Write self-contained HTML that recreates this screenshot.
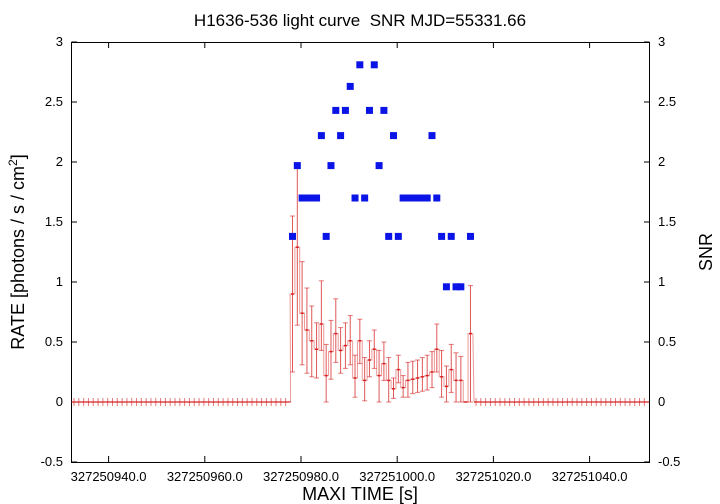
<!DOCTYPE html>
<html><head><meta charset="utf-8"><style>
html,body{margin:0;padding:0;background:#fff;}
svg{display:block;font-family:"Liberation Sans",sans-serif;}
</style></head><body>
<svg id="s" width="720" height="504" xmlns="http://www.w3.org/2000/svg">
<rect width="720" height="504" fill="#fff"/>
<text x="360" y="26" font-size="17" text-anchor="middle">H1636-536 light curve&#160; SNR MJD=55331.66</text>
<rect x="71.5" y="42.5" width="578" height="420" fill="none" stroke="#000" stroke-width="1"/>
<g id="ax" font-size="13"></g>
<g id="data"></g>
<text x="360" y="500" font-size="18" text-anchor="middle">MAXI TIME [s]</text>
<text transform="translate(24,252) rotate(-90)" font-size="18" text-anchor="middle">RATE [photons / s / cm<tspan font-size="12" dy="-7">2</tspan><tspan dy="7">]</tspan></text>
<text transform="translate(712,252) rotate(-90)" font-size="18" text-anchor="middle">SNR</text>
</svg>
<script>
var NS="http://www.w3.org/2000/svg";
function el(p,t,a,txt){var e=document.createElementNS(NS,t);for(var k in a)e.setAttribute(k,a[k]);if(txt!==undefined)e.textContent=txt;p.appendChild(e);return e;}
var ax=document.getElementById('ax'),d=document.getElementById('data');
function Y(v){return 402-120*v;}
function X(t){return 108.6+(t-940)*4.81;}
var yl=[-0.5,0,0.5,1,1.5,2,2.5,3],ys=["-0.5","0","0.5","1","1.5","2","2.5","3"];
yl.forEach(function(v,i){var y=Y(v);
el(ax,'line',{x1:71.5,x2:77,y1:y,y2:y,stroke:'#000'});
el(ax,'line',{x1:644,x2:649.5,y1:y,y2:y,stroke:'#000'});
el(ax,'text',{x:63,y:y+4,'text-anchor':'end'},ys[i]);
el(ax,'text',{x:658,y:y+4},ys[i]);});
for(var t=940;t<=1040;t+=20){var x=X(t);
el(ax,'line',{x1:x,x2:x,y1:462,y2:456,stroke:'#000'});
el(ax,'line',{x1:x,x2:x,y1:42,y2:48,stroke:'#000'});
el(ax,'text',{x:x,y:481,'text-anchor':'middle'},t<1000?"3272509"+(t-900)+".0":"32725"+t+".0");}
var col='#d62020';
el(d,'line',{x1:71.5,x2:290.6,y1:402,y2:402,stroke:col,'stroke-width':1.2});
el(d,'line',{x1:474,x2:649,y1:402,y2:402,stroke:col,'stroke-width':1.2});
for(var x=74;x<290;x+=4.81)el(d,'line',{x1:x,x2:x,y1:398,y2:406,stroke:col,'stroke-opacity':0.6});
for(var x=476;x<648;x+=4.81)el(d,'line',{x1:x,x2:x,y1:398,y2:406,stroke:col,'stroke-opacity':0.6});
var R=[[0.9,1.55,0.25],[1.29,1.98,0.64],[0.74,1.17,0.31],[0.6,0.95,0.24],[0.51,0.8,0.21],[0.44,0.66,0.2],[0.65,1.01,0.43],[0.22,0.48,0.0],[0.42,0.68,0.19],[0.57,0.86,0.33],[0.43,0.62,0.24],[0.47,0.66,0.28],[0.51,0.72,0.31],[0.2,0.39,0.04],[0.51,0.69,0.32],[0.18,0.37,0.01],[0.35,0.51,0.21],[0.44,0.6,0.28],[0.22,0.43,0.0],[0.32,0.5,0.18],[0.18,0.37,0.0],[0.11,0.2,0.03],[0.27,0.39,0.16],[0.12,0.22,0.04],[0.18,0.33,0.04],[0.19,0.34,0.07],[0.2,0.35,0.08],[0.21,0.37,0.09],[0.22,0.39,0.1],[0.25,0.42,0.12],[0.44,0.65,0.25],[0.21,0.43,0.04],[0.13,0.3,0.0],[0.27,0.48,0.08],[0.18,0.41,0.0],[0.18,0.38,0.0],[0.0,0.0,0.0],[0.57,0.97,0.0]];
var S=[1.38,1.97,1.7,1.7,1.7,1.7,2.22,1.38,1.97,2.43,2.22,2.43,2.63,1.7,2.81,1.7,2.43,2.81,1.97,2.43,1.38,2.22,1.38,1.7,1.7,1.7,1.7,1.7,1.7,2.22,1.7,1.38,0.96,1.38,0.96,0.96,null,1.38];
var x0=292.5,dx=4.81,pts="M290.6 402";
R.forEach(function(r,i){var x=x0+i*dx;
pts+=" L"+(x-dx/2)+" "+Y(r[0])+" L"+(x+dx/2)+" "+Y(r[0]);
el(d,'line',{x1:x,x2:x,y1:Y(r[1]),y2:Y(r[2]),stroke:col,'stroke-opacity':0.75});
el(d,'line',{x1:x-2.5,x2:x+2.5,y1:Y(r[1]),y2:Y(r[1]),stroke:col,'stroke-opacity':0.6});
el(d,'line',{x1:x-2.5,x2:x+2.5,y1:Y(r[2]),y2:Y(r[2]),stroke:col,'stroke-opacity':0.6});
el(d,'line',{x1:x-1.5,x2:x+1.5,y1:Y(r[0]),y2:Y(r[0]),stroke:col,'stroke-width':1.5});});
pts+=" L474 402";
el(d,'path',{d:pts,fill:'none',stroke:col,'stroke-opacity':0.45,'stroke-width':1});
S.forEach(function(s,i){if(s===null)return;var x=x0+i*dx;
el(d,'rect',{x:x-3.5,y:Y(s)-3.5,width:7,height:7,fill:'#0a14e6'});});
</script>
</body></html>
